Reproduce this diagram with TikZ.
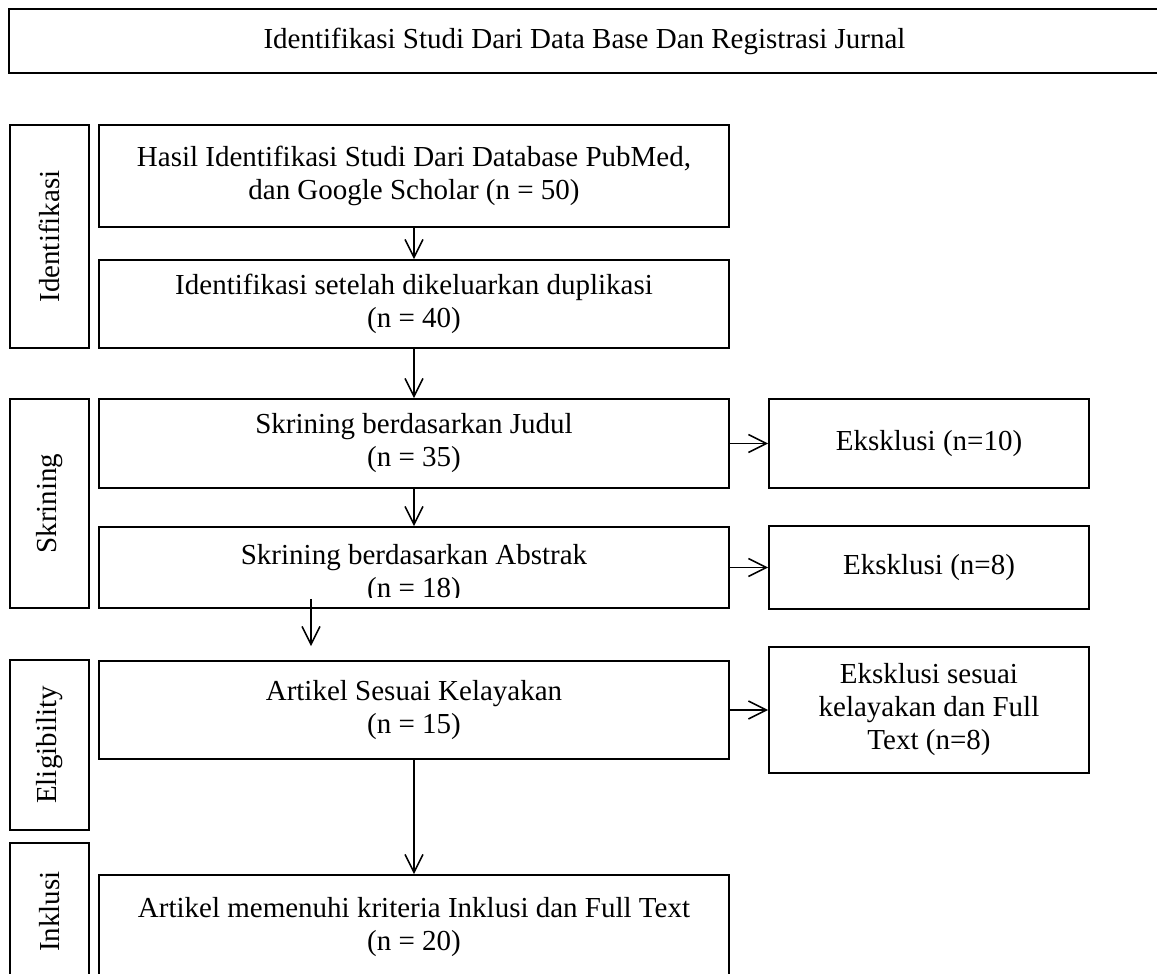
\documentclass[tikz,border=0pt]{standalone}
\usepackage{fontspec}
\setmainfont{Liberation Serif}
\usetikzlibrary{positioning,arrows.meta}
\tikzset{
  flowbox/.style={draw, line width=0.8pt, align=center, inner sep=2pt,
    font=\fontsize{14.5}{16.5}\selectfont},
  stagebox/.style={flowbox, rotate=90, minimum height=39.5pt},
  mainbox/.style={flowbox, minimum width=315pt},
  exbox/.style={flowbox, minimum width=160pt},
  flowarrow/.style={-{Straight Barb[length=9pt,width=9pt]}, line width=0.8pt},
}

\begin{document}
\begin{tikzpicture}[x=0.5pt, y=-0.5pt]
  \useasboundingbox (0,0) rectangle (1157,974);
  % judul atas
  \node[flowbox, line width=1pt, minimum width=575.5pt, minimum height=32pt] (register) at (584.5,41) {Identifikasi Studi Dari Data Base Dan Registrasi Jurnal};
  % tahap
  \node[stagebox, minimum width=111.5pt] (tIdent) at (49.5,236.5) {Identifikasi};
  \node[stagebox, minimum width=104.5pt] (tSkrin) at (49.5,503.5) {Skrining};
  \node[stagebox, minimum width=85pt] (tElig) at (49.5,745) {Eligibility};
  \node[stagebox, minimum width=68.5pt] (tInkl) at (49.5,911.5) {Inklusi};
  % alur utama
  \node[mainbox, minimum height=51pt] (hasil) at (414,176) {Hasil Identifikasi Studi Dari Database PubMed,\\dan Google Scholar (n = 50)};
  \node[mainbox, minimum height=44pt] (duplikasi) at (414,304) {Identifikasi setelah dikeluarkan duplikasi\\(n = 40)};
  \node[mainbox, minimum height=44.5pt] (skrJudul) at (414,443.5) {Skrining berdasarkan Judul\\(n = 35)};
  \node[mainbox, minimum height=40.5pt] (skrAbstrak) at (414,567.5) {};
  \begin{scope}
    \clip (99,527) rectangle (729,597);
    \node[flowbox, draw=none] (skrAbstrakTeks) at (414,574) {Skrining berdasarkan Abstrak\\(n = 18)};
  \end{scope}
  \node[mainbox, minimum height=49pt] (kelayakan) at (414,710) {Artikel Sesuai Kelayakan\\(n = 15)};
  \node[mainbox, minimum height=52.5pt] (inklusi) at (414,927.5) {Artikel memenuhi kriteria Inklusi dan Full Text\\(n = 20)};
  % eksklusi
  \node[exbox, minimum height=44.5pt] (eks1) at (929,443.5) {Eksklusi (n=10)};
  \node[exbox, minimum height=41.5pt] (eks2) at (929,567.5) {Eksklusi (n=8)};
  \node[exbox, minimum height=63pt] (eks3) at (929,710) {Eksklusi sesuai\\kelayakan dan Full\\Text (n=8)};
  % panah
  \draw[flowarrow] (hasil) -- (duplikasi);
  \draw[flowarrow] (duplikasi) -- (skrJudul);
  \draw[flowarrow] (skrJudul) -- (skrAbstrak);
  \draw[flowarrow] ([xshift=-51.5pt,yshift=5pt]skrAbstrak.south) -- ([xshift=-51.5pt,yshift=7pt]kelayakan.north);
  \draw[flowarrow] (kelayakan) -- (inklusi);
  \draw[flowarrow] (skrJudul) -- (eks1);
  \draw[flowarrow] (skrAbstrak) -- (eks2);
  \draw[flowarrow] (kelayakan) -- (eks3);
\end{tikzpicture}
\end{document}
